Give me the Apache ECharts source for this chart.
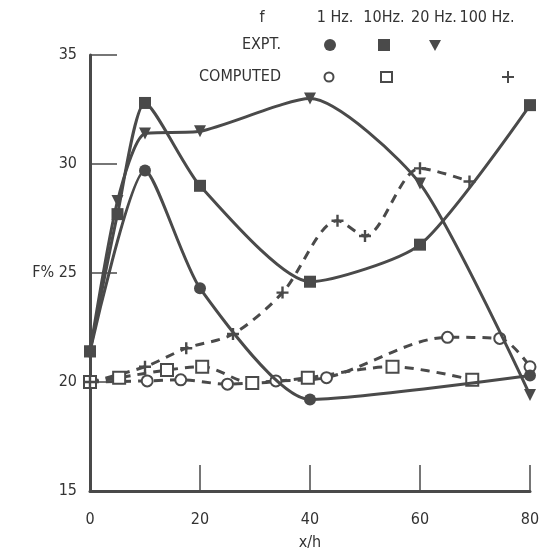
<!DOCTYPE html>
<html>
<head>
<meta charset="utf-8">
<script src="https://cdn.jsdelivr.net/npm/echarts@6/dist/echarts.min.js"></script>
<style>
html, body { margin: 0; padding: 0; background: #fff; }
#chart { width: 547px; height: 549px; }
</style>
</head>
<body>
<div id="chart"></div>
<script>
// values, [x (h), F (%)]
const expt1Hz = [[0, 21.4], [10, 29.7], [20, 24.3], [40, 19.2], [80, 20.3]]
const expt10Hz = [[0, 21.4], [5, 27.7], [10, 32.8], [20, 29.0], [40, 24.6], [60, 26.3], [80, 32.7]]
const expt20Hz = [[0, 21.4], [5, 28.3], [10, 31.4], [20, 31.5], [40, 33.0], [60, 29.1], [80, 19.4]]
const comp1Hz = [[0, 20.0], [10.4, 20.05], [16.5, 20.1], [25, 19.9], [33.8, 20.05], [43, 20.2], [65, 22.05], [74.5, 22.0], [80, 20.7]]
const comp10Hz = [[0, 20.0], [5.3, 20.2], [14, 20.55], [20.4, 20.7], [29.5, 19.95], [39.6, 20.2], [55, 20.7], [69.5, 20.1]]
const comp100Hz = [[0, 20.0], [10, 20.7], [17.5, 21.55], [26, 22.2], [35, 24.1], [45, 27.4], [50, 26.7], [60, 29.8], [69, 29.2]]

const legendCols = ['1 Hz.', '10Hz.', '20 Hz.', '100 Hz.']
const legendRows = ['EXPT.', 'COMPUTED']

const ink = '#4a4a4a'
const font = '"Liberation Sans Narrow", "DejaVu Sans Condensed", "Liberation Sans", sans-serif'
const plusPath = 'path://M4,0h2v4h4v2h-4v4h-2v-4h-4v-2h4z'

function exptSeries(data, symbol, rotate) {
    return {
        type: 'line',
        data: data,
        smooth: 0.22,
        symbol: symbol,
        symbolRotate: rotate || 0,
        symbolSize: 12,
        itemStyle: { color: ink },
        lineStyle: { color: ink, width: 3 },
        z: 3
    }
}

function compSeries(data, symbol, size, open) {
    return {
        type: 'line',
        data: data,
        smooth: 0.3,
        symbol: symbol,
        symbolSize: size,
        itemStyle: open ? { color: '#fff', borderColor: ink, borderWidth: 2 } : { color: ink },
        lineStyle: { color: ink, width: 3, type: [9, 7] },
        z: 2
    }
}

const colX = [335, 384, 434, 487]
const legendFont = '16px ' + font
const legendGraphics = [
    { type: 'text', x: 262, y: 18, style: { text: 'f', font: legendFont, fill: '#333', align: 'center', verticalAlign: 'middle' } }
]
legendCols.forEach(function (t, i) {
    legendGraphics.push({ type: 'text', x: colX[i], y: 18, style: { text: t, font: legendFont, fill: '#333', align: 'center', verticalAlign: 'middle' } })
})
legendRows.forEach(function (t, i) {
    legendGraphics.push({ type: 'text', x: 281, y: i === 0 ? 45 : 77, style: { text: t, font: legendFont, fill: '#333', align: 'right', verticalAlign: 'middle' } })
})
legendGraphics.push(
    { type: 'circle', shape: { cx: 330, cy: 45, r: 6 }, style: { fill: ink } },
    { type: 'rect', shape: { x: 378, y: 39, width: 12, height: 12 }, style: { fill: ink } },
    { type: 'polygon', shape: { points: [[429, 40], [441, 40], [435, 51]] }, style: { fill: ink } },
    { type: 'circle', shape: { cx: 329, cy: 77, r: 4.5 }, style: { fill: '#fff', stroke: ink, lineWidth: 2 } },
    { type: 'rect', shape: { x: 381, y: 72, width: 11, height: 10 }, style: { fill: '#fff', stroke: ink, lineWidth: 2 } },
    { type: 'polygon', shape: { points: [[507, 71], [509, 71], [509, 76], [514, 76], [514, 78], [509, 78], [509, 83], [507, 83], [507, 78], [502, 78], [502, 76], [507, 76]] }, style: { fill: ink } }
)

const option = {
    backgroundColor: '#fff',
    animation: false,
    grid: { left: 90, right: 17, top: 55, bottom: 58, outerBoundsMode: 'none' },
    xAxis: {
        type: 'value',
        min: 0, max: 80, interval: 20,
        name: 'x/h',
        nameLocation: 'middle',
        nameGap: 44,
        nameTextStyle: { fontFamily: font, fontSize: 16, color: '#333' },
        axisLine: { lineStyle: { color: ink, width: 3 } },
        axisTick: { inside: true, length: 26, lineStyle: { color: ink, width: 1.5 } },
        axisLabel: { margin: 21, fontFamily: font, fontSize: 16, color: '#333' },
        splitLine: { show: false }
    },
    yAxis: {
        type: 'value',
        min: 15, max: 35, interval: 5,
        axisLine: { show: true, lineStyle: { color: ink, width: 3 } },
        axisTick: { show: true, inside: true, length: 27, lineStyle: { color: ink, width: 1.5 } },
        axisLabel: {
            margin: 13, fontFamily: font, fontSize: 16, color: '#333',
            formatter: function (v) { return v === 25 ? 'F% 25' : String(v) }
        },
        splitLine: { show: false }
    },
    graphic: legendGraphics,
    series: [
        exptSeries(expt1Hz, 'circle'),
        exptSeries(expt10Hz, 'rect'),
        exptSeries(expt20Hz, 'triangle', 180),
        compSeries(comp1Hz, 'circle', 11, true),
        compSeries(comp10Hz, 'rect', 12, true),
        compSeries(comp100Hz, plusPath, 12, false)
    ]
}

const chart = echarts.init(document.getElementById('chart'))
chart.setOption(option)
window.onresize = function () {
    chart.resize()
}
</script>
</body>
</html>
